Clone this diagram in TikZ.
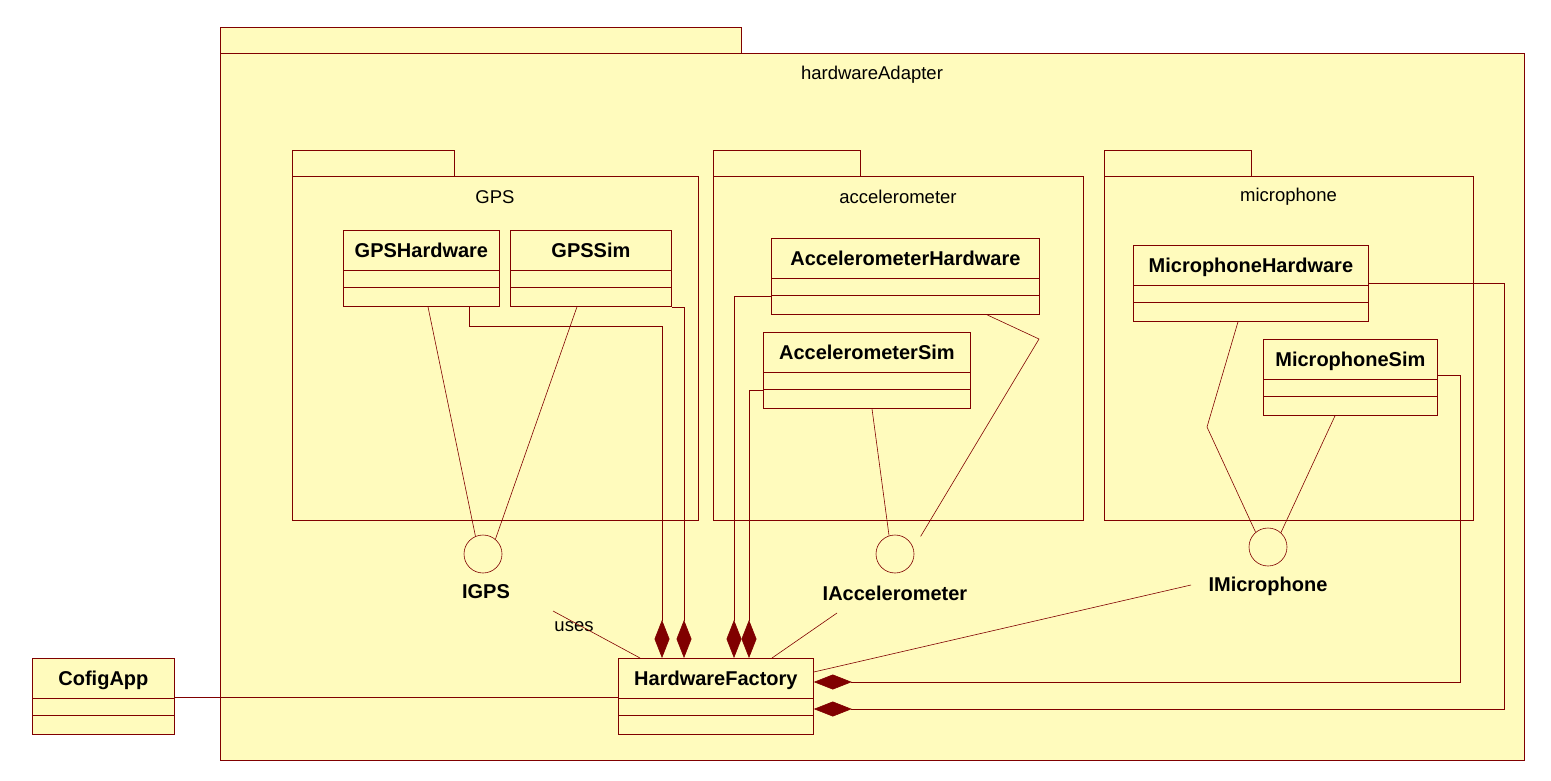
\documentclass[tikz,border=0pt]{standalone}
\usepackage{fontspec}
\setmainfont{Liberation Sans}
\usepackage{tikz}
\usetikzlibrary{arrows.meta,positioning,calc}
\definecolor{umlfill}{RGB}{255,251,189}
\definecolor{umlline}{RGB}{128,0,0}
\tikzset{
	pkg/.style={draw=umlline,fill=umlfill,line width=0.8pt},
	cls/.style={draw=umlline,fill=umlfill,line width=0.8pt,inner sep=0pt,anchor=north west,
		minimum width=#1,text height=27pt,text depth=49pt,font=\bfseries\fontsize{20}{24}\selectfont},
	iface/.style={draw=umlline,fill=umlfill,circle,inner sep=0pt,minimum size=38pt,line width=0.6pt},
	ilabel/.style={font=\bfseries\fontsize{20}{24}\selectfont},
	plabel/.style={font=\fontsize{18.5}{22}\selectfont},
	assoc/.style={draw=umlline,line width=0.6pt},
	comp/.style={assoc,-{Diamond[length=38pt,width=15pt]}}
}

\begin{document}
\begin{tikzpicture}[x=1pt,y=-1pt]
	\useasboundingbox[fill=white] (0,0) rectangle (1551,781);
	
	%paquet hardwareAdapter
	\draw[pkg] (220,27) rectangle (741,53);
	\draw[pkg] (220,53) rectangle (1524,760);
	\node[plabel] (lhw) at (872,75) {hardwareAdapter};
	
	%sous-paquets
	\foreach \xa/\xt/\xb/\nom/\txt in {292/454/698/gps/GPS,713/860/1083/acc/accelerometer,1104/1251/1473/mic/microphone}{
		\draw[pkg] (\xa,150) rectangle (\xt,176);
		\draw[pkg] (\xa,176) rectangle (\xb,520);
		\node[plabel] (l\nom) at ({(\xa+\xb)/2},197) {\txt};
	}
	
	%classes
	\node[cls=156pt] (gpshw) at (343,230) {GPSHardware};
	\node[cls=161pt] (gpssim) at (510,230) {GPSSim};
	\node[cls=268pt] (acchw) at (771,238) {AccelerometerHardware};
	\node[cls=207pt] (accsim) at (763,332) {AccelerometerSim};
	\node[cls=235pt] (michw) at (1133,245) {MicrophoneHardware};
	\node[cls=174pt] (micsim) at (1263,339) {MicrophoneSim};
	\node[cls=195pt] (factory) at (618,658) {HardwareFactory};
	\node[cls=142pt] (cofig) at (32,658) {CofigApp};
	
	\foreach \c in {gpshw,gpssim,acchw,accsim,michw,micsim,factory,cofig}{
		\draw[assoc] ([yshift=-40pt]\c.north west) -- ([yshift=-40pt]\c.north east)
			([yshift=-57pt]\c.north west) -- ([yshift=-57pt]\c.north east);
	}
	
	%interfaces
	\node[iface] (igps) at (483,554) {};
	\node[ilabel] (igpsl) at (486,592) {IGPS};
	\node[iface] (iacc) at (895,554) {};
	\node[ilabel] (iaccl) at (895,593) {IAccelerometer};
	\node[iface] (imic) at (1268,547) {};
	\node[ilabel] (imicl) at (1268,586) {IMicrophone};
	
	%realisations
	\draw[assoc] ([xshift=85pt]gpshw.south west) -- (igps.113);
	\draw[assoc] ([xshift=67pt]gpssim.south west) -- (igps.50);
	\draw[assoc] ([xshift=109pt]accsim.south west) -- (iacc.108);
	\draw[assoc] ([xshift=216pt]acchw.south west) -- (1039,339) -- ([xshift=12pt,yshift=4pt]iacc.45);
	\draw[assoc] ([xshift=105pt]michw.south west) -- (1207,427) -- (imic.130);
	\draw[assoc] ([xshift=72pt]micsim.south west) -- (imic.48);
	
	%compositions
	\draw[comp] ([xshift=126pt]gpshw.south west) -- ++(0,19) -| ([xshift=44pt]factory.north west);
	\draw[comp] (gpssim.south east) -| ([xshift=66pt]factory.north west);
	\draw[comp] ([yshift=-58pt]acchw.north west) -| ([xshift=116pt]factory.north west);
	\draw[comp] ([yshift=-58pt]accsim.north west) -| ([xshift=131pt]factory.north west);
	\draw[comp] ([yshift=-36pt]micsim.north east) -- ++(22,0) |- ([yshift=-24pt]factory.north east);
	\draw[comp] ([yshift=-38pt]michw.north east) -- ++(135,0) |- ([yshift=-51pt]factory.north east);
	
	%dependances
	\coordinate (usesend) at (553,611);
	\coordinate (accend) at (837,613);
	\coordinate (micend) at (1191,585);
	\node[plabel] (luses) at (574,627) {uses};
	\draw[assoc] (usesend) -- ([xshift=22pt]factory.north west);
	\draw[assoc] (accend) -- ([xshift=154pt]factory.north west);
	\draw[assoc] (micend) -- ([yshift=-14pt]factory.north east);
	\draw[assoc] ([yshift=-39pt]cofig.north east) -- ([yshift=-39pt]factory.north west);
	
\end{tikzpicture}
\end{document}
